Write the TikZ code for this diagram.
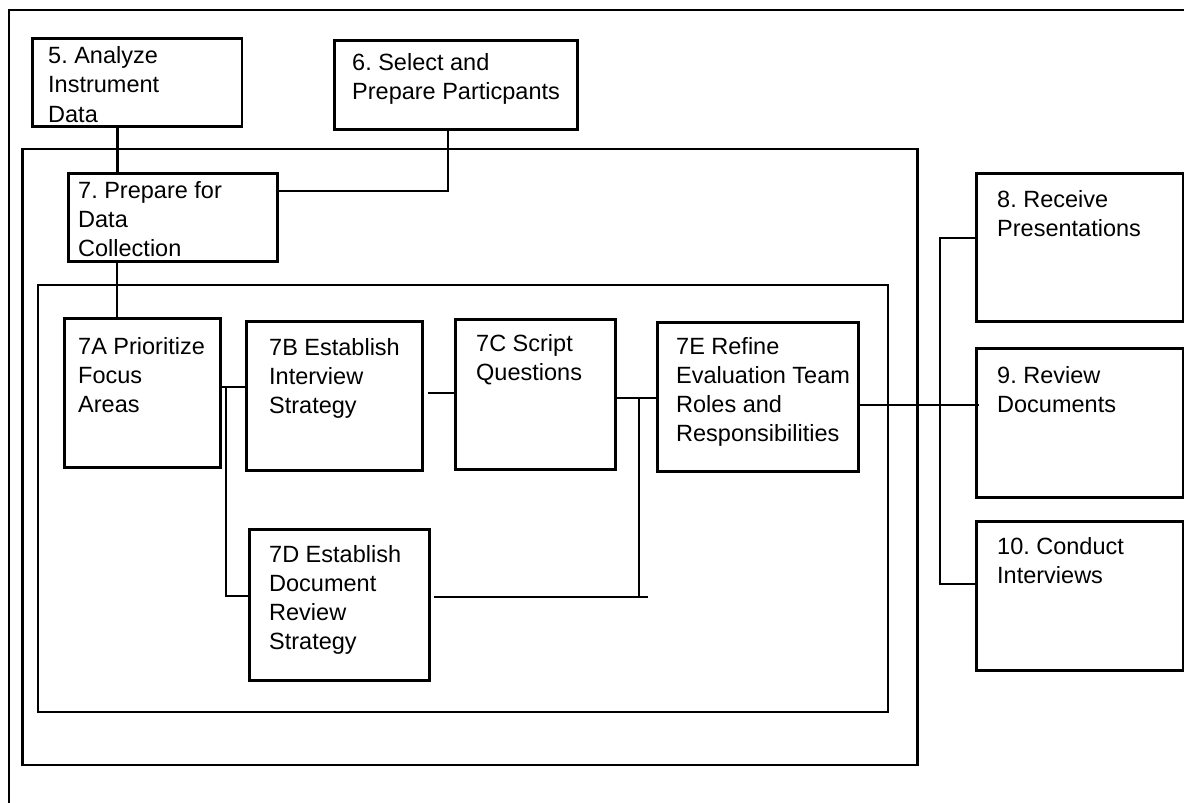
\documentclass[tikz,border=0pt]{standalone}
\usepackage{fontspec}
\setmainfont{Liberation Sans}
\usetikzlibrary{calc}
\frenchspacing
\tikzset{
  stepbox/.style={draw, line width=2.7pt, rectangle, inner sep=0pt, anchor=north west},
  frame/.style={draw, line width=2.5pt},
  txt/.style={anchor=north west, inner sep=0pt, align=left,
    font=\fontsize{23.5}{29.2}\selectfont},
  conn/.style={line width=2.6pt},
  thinconn/.style={line width=1.5pt},
}
\begin{document}
\begin{tikzpicture}[x=1pt, y=-1pt]
\useasboundingbox (0,0) rectangle (1184,803);

% outer frame (runs off the page at the right and bottom)
\draw[frame] (9,803) -- (9,10) -- (1184,10);
% nested frames
\draw[frame] (22.5,149) rectangle (917.5,765);
\draw[frame] (38,285) rectangle (888,712);

% boxes
\node[stepbox, minimum width=209.5pt, minimum height=88pt] (b5) at (31,37) {};
\node[stepbox, minimum width=243pt, minimum height=89pt] (b6) at (333,39) {};
\node[stepbox, minimum width=209pt, minimum height=88pt] (b7) at (67,172) {};
\node[stepbox, minimum width=156pt, minimum height=149pt] (bA) at (63,317) {};
\node[stepbox, minimum width=176pt, minimum height=149pt] (bB) at (245,320) {};
\node[stepbox, minimum width=160pt, minimum height=150pt] (bC) at (454,318) {};
\node[stepbox, minimum width=201pt, minimum height=149pt] (bE) at (656,321) {};
\node[stepbox, minimum width=180pt, minimum height=151pt] (bD) at (248,528) {};
\node[stepbox, minimum width=207pt, minimum height=148pt] (b8) at (975,172) {};
\node[stepbox, minimum width=207pt, minimum height=149pt] (b9) at (975,347) {};
\node[stepbox, minimum width=207pt, minimum height=149pt] (b10) at (975,520) {};

% box texts
\node[txt] (t5) at ($(b5.north west)+(17,9.5)$) {5. Analyze\\Instrument\\Data};
\node[txt] (t6) at ($(b6.north west)+(19,14)$) {6. Select and\\Prepare Particpants};
\node[txt] (t7) at ($(b7.north west)+(11,9)$) {7. Prepare for\\Data\\Collection};
\node[txt] (tA) at ($(bA.north west)+(15,20)$) {7A Prioritize\\Focus\\Areas};
\node[txt] (tB) at ($(bB.north west)+(24,18)$) {7B Establish\\Interview\\Strategy};
\node[txt] (tC) at ($(bC.north west)+(22,16)$) {7C Script\\Questions};
\node[txt] (tE) at ($(bE.north west)+(20,16)$) {7E Refine\\Evaluation Team\\Roles and\\Responsibilities};
\node[txt] (tD) at ($(bD.north west)+(21,17)$) {7D Establish\\Document\\Review\\Strategy};
\node[txt] (t8) at ($(b8.north west)+(22,18)$) {8. Receive\\Presentations};
\node[txt] (t9) at ($(b9.north west)+(22,19)$) {9. Review\\Documents};
\node[txt] (t10) at ($(b10.north west)+(22,17)$) {10. Conduct\\Interviews};

% junction points
\coordinate (j5) at (117.5,0);
\coordinate (j6) at (448,191);
\coordinate (j7) at (117,0);
\coordinate (jA) at (226,387);
\coordinate (jD) at (226,596);
\coordinate (jB) at (0,393);
\coordinate (jC) at (639,398);
\coordinate (jC2) at (639,597);
\coordinate (jCend) at (648,597);
\coordinate (jE) at (0,405);
\coordinate (r1) at (940,238);
\coordinate (r2) at (940,584);

% connectors
\draw[conn] (b5.south -| j5) -- (b7.north -| j5);
\draw[conn] (b6.south -| j6) -- (j6) -- (b7.east |- j6);
\draw[conn] (b7.south -| j7) -- (bA.north -| j7);
\draw[conn] (bA.east |- jA) -- (bB.west |- jA);
\draw[conn] (jA) -- (jD) -- (bD.west |- jD);
\draw[conn, shorten <=4pt] (bB.east |- jB) -- (bC.west |- jB);
\draw[conn] (bC.east |- jC) -- (bE.west |- jC);
\draw[conn] (jC) -- (jC2);
\draw[thinconn, shorten <=3pt] (bD.east |- jC2) -- (jCend);
\draw[thinconn] (bE.east |- jE) -- ($(b9.west |- jE)+(4,0)$);
\draw[conn] (b8.west |- r1) -- (r1) -- (r2) -- (b10.west |- r2);
\end{tikzpicture}
\end{document}
